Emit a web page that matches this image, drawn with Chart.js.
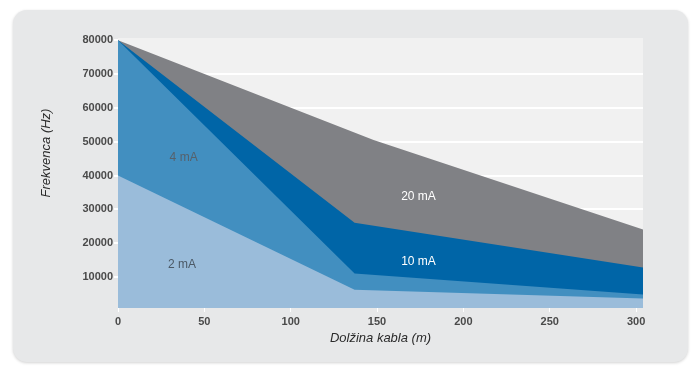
<!DOCTYPE html>
<html>
<head>
<meta charset="utf-8">
<script src="https://cdn.jsdelivr.net/npm/chart.js@4.4.1/dist/chart.umd.min.js"></script>
<style>
    html, body { margin: 0; padding: 0; background: #ffffff; }
    #wrap { position: relative; width: 700px; height: 370px; }
    #card {
        position: absolute; left: 13px; top: 10px; width: 675px; height: 352px;
        background: #e7e8e9; border-radius: 14px;
        box-shadow: 0 1px 3px rgba(0, 0, 0, 0.18);
    }
    #sensorChart { position: absolute; left: 0; top: 0; }
</style>
</head>
<body>
<div id="wrap">
    <div id="card"></div>
    <canvas id="sensorChart" width="700" height="370"></canvas>
</div>
<script>
// Dolžina kabla (m) / Frekvenca (Hz) za svaku struju
const len2mA = [0, 137, 304];
const freq2mA = [40000, 6200, 3600];
const len4mA = [0, 137, 304];
const freq4mA = [80000, 11000, 4800];
const len10mA = [0, 137, 304];
const freq10mA = [80000, 26000, 12800];
const len20mA = [0, 148, 304];
const freq20mA = [80000, 50500, 24000];

const xTicks = [0, 50, 100, 150, 200, 250, 300];
const yTicks = [10000, 20000, 30000, 40000, 50000, 60000, 70000, 80000];

// natpisi unutar površina (u koordinatama podataka)
const areaLabels = [
    { text: '4 mA', x: 38, y: 45300, color: '#56616b' },
    { text: '2 mA', x: 37, y: 13700, color: '#4b5966' },
    { text: '20 mA', x: 174, y: 33800, color: '#ffffff' },
    { text: '10 mA', x: 174, y: 14600, color: '#ffffff' }
];

function toPoints(xs, ys) {
    return xs.map((x, i) => ({ x: x, y: ys[i] }));
}

const plotBg = {
    id: 'plotBg',
    beforeDraw(chart) {
        const { ctx, chartArea: a } = chart;
        ctx.save();
        ctx.fillStyle = '#f1f1f1';
        ctx.fillRect(a.left, a.top, a.right - a.left, a.bottom - a.top);
        ctx.restore();
    },
    afterDatasetsDraw(chart) {
        const { ctx, scales } = chart;
        ctx.save();
        ctx.font = '12px "Liberation Sans", Arial, sans-serif';
        ctx.textAlign = 'center';
        ctx.textBaseline = 'middle';
        areaLabels.forEach(l => {
            ctx.fillStyle = l.color;
            ctx.fillText(l.text, scales.x.getPixelForValue(l.x), scales.y.getPixelForValue(l.y));
        });
        // naslov y ose
        ctx.translate(46, 153);
        ctx.rotate(-Math.PI / 2);
        ctx.fillStyle = '#2b2b2b';
        ctx.font = 'italic 13px "Liberation Sans", Arial, sans-serif';
        ctx.fillText('Frekvenca (Hz)', 0, 0);
        ctx.restore();
    }
};

const tickFont = { family: '"Liberation Sans Narrow", "Liberation Sans", Arial, sans-serif', size: 11, weight: 'bold' };

const ctx = document.getElementById('sensorChart').getContext('2d');
const chart = new Chart(ctx, {
    type: 'line',
    data: {
        datasets: [
            { label: '2 mA', data: toPoints(len2mA, freq2mA), backgroundColor: '#9abcda' },
            { label: '4 mA', data: toPoints(len4mA, freq4mA), backgroundColor: '#428fc0' },
            { label: '10 mA', data: toPoints(len10mA, freq10mA), backgroundColor: '#0065a7' },
            { label: '20 mA', data: toPoints(len20mA, freq20mA), backgroundColor: '#808185' }
        ].map(d => Object.assign(d, {
            fill: 'start', borderWidth: 0, pointRadius: 0, tension: 0
        }))
    },
    options: {
        responsive: false,
        animation: false,
        layout: { padding: { top: 38, right: 57, bottom: 0, left: 0 } },
        plugins: { legend: { display: false }, tooltip: { enabled: false } },
        scales: {
            x: {
                type: 'linear',
                min: 0,
                max: 304,
                afterBuildTicks: s => { s.ticks = xTicks.map(v => ({ value: v })); },
                afterFit: s => { s.height = 62; },
                border: { display: false },
                grid: { drawOnChartArea: false, drawTicks: true, tickLength: 4, tickColor: '#ffffff' },
                ticks: {
                    padding: 3,
                    color: '#4a4a4a',
                    font: tickFont,
                    callback: v => String(v)
                },
                title: {
                    display: true,
                    text: 'Dolžina kabla (m)',
                    color: '#2b2b2b',
                    font: { family: '"Liberation Sans", Arial, sans-serif', size: 13, style: 'italic' },
                    padding: { top: 0, bottom: 24 }
                }
            },
            y: {
                min: 800,
                max: 80700,
                afterBuildTicks: s => { s.ticks = yTicks.map(v => ({ value: v })); },
                afterFit: s => { s.width = 118; },
                border: { display: false },
                grid: {
                    color: c => c.tick && c.tick.value === 80000 ? 'rgba(0,0,0,0)' : '#ffffff',
                    lineWidth: 2,
                    tickLength: 4,
                    tickColor: '#ffffff'
                },
                ticks: {
                    padding: 1,
                    color: '#4a4a4a',
                    font: tickFont,
                    callback: v => String(v)
                }
            }
        }
    },
    plugins: [plotBg]
});
</script>
</body>
</html>
